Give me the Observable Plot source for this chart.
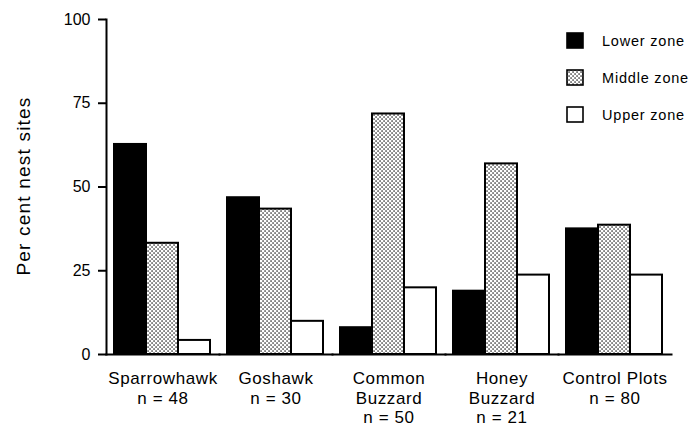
<!DOCTYPE html>
<html><head><meta charset="utf-8">
<script src="https://cdn.jsdelivr.net/npm/d3@7"></script>
<script src="https://cdn.jsdelivr.net/npm/@observablehq/plot@0.6"></script>
<style>
body{margin:0;background:#fff}
#chart{position:relative;width:692px;height:429px}
#chart svg{font-family:"Liberation Sans",Arial,sans-serif;}
#legend{position:absolute;left:566px;top:0;font:14.5px "Liberation Sans",Arial,sans-serif;letter-spacing:0.8px;color:#000}
#legend .row{position:absolute;left:0;display:flex;align-items:center;white-space:nowrap;height:17px}
</style></head><body><div id="chart"><div id="legend"></div></div>
<script>
const species = ["Sparrowhawk","Goshawk","Common Buzzard","Honey Buzzard","Control Plots"];
const speciesLabels = ["Sparrowhawk\nn = 48","Goshawk\nn = 30","Common\nBuzzard\nn = 50","Honey\nBuzzard\nn = 21","Control Plots\nn = 80"];
const zones = ["Lower zone","Middle zone","Upper zone"];
const lower  = [62.7, 46.8, 8.0, 18.9, 37.5];
const middle = [33.2, 43.4, 71.8, 56.9, 38.6];
const upper  = [4.2, 9.9, 19.9, 23.7, 23.7];
const yTicks = [0, 25, 50, 75, 100];
const yLabel = "Per cent nest sites";

const series = [lower, middle, upper];
const table = species.flatMap((s, i) => zones.map((z, j) => ({species: s, zone: z, value: series[j][i]})));
const fills = ["#000", "url(#stipple)", "#fff"];

const svg = Plot.plot({
  width: 692, height: 429,
  marginLeft: 105, marginRight: 20, marginTop: 19, marginBottom: 75,
  style: {fontFamily: '"Liberation Sans", Arial, sans-serif', fontSize: "16px", color: "#000", background: "#fff"},
  fx: {domain: species, padding: 0},
  x: {domain: zones, padding: 0, axis: null, insetLeft: 6.7, insetRight: 7.7},
  y: {domain: [0, 100]},
  color: {domain: zones, range: fills},
  marks: [
    Plot.barY(table, {fx: "species", x: "zone", y: "value", fill: "zone", stroke: "#000", strokeWidth: 2}),
    Plot.frame({anchor: "left", fx: [species[0]], strokeWidth: 2}),
    Plot.frame({anchor: "bottom", strokeWidth: 2}),
    Plot.axisY({ticks: yTicks, tickSize: 8, tickPadding: 8, label: null, strokeWidth: 2, fontSize: 16}),
    Plot.axisFx({anchor: "bottom", tickSize: 0, tickPadding: 16, label: null, lineHeight: 1.14, fontSize: 17,
      tickFormat: d => speciesLabels[species.indexOf(d)]})
  ]
});

const defs = d3.select(svg).insert("defs", ":first-child");
const pat = defs.append("pattern").attr("id", "stipple").attr("patternUnits", "userSpaceOnUse")
  .attr("width", 4).attr("height", 4);
pat.append("rect").attr("width", 4).attr("height", 4).attr("fill", "#fff");
pat.append("rect").attr("x", 0.4).attr("y", 0.4).attr("width", 1.3).attr("height", 1.3).attr("fill", "#000");
pat.append("rect").attr("x", 2.4).attr("y", 2.4).attr("width", 1.3).attr("height", 1.3).attr("fill", "#000");

d3.select(svg).append("text")
  .attr("transform", "translate(23,186) rotate(-90)")
  .attr("text-anchor", "middle").attr("dy", "0.35em")
  .attr("font-size", 19).attr("letter-spacing", 1.2).attr("fill", "#000")
  .text(yLabel);

d3.select(svg).selectAll('g[aria-label="fx-axis tick label"] text').attr("letter-spacing", 0.6);

document.getElementById("chart").prepend(svg);

const legend = d3.select("#legend");
const tops = [32, 69, 106];
zones.forEach((z, i) => {
  const row = legend.append("div").attr("class", "row").style("top", tops[i] + "px");
  const sw = row.append("svg").attr("width", 18).attr("height", 17).style("margin-right", "18px");
  sw.append("rect").attr("x", 1).attr("y", 1).attr("width", 16).attr("height", 15)
    .attr("fill", fills[i]).attr("stroke", "#000").attr("stroke-width", 1.6);
  row.append("span").text(z);
});
</script></body></html>
